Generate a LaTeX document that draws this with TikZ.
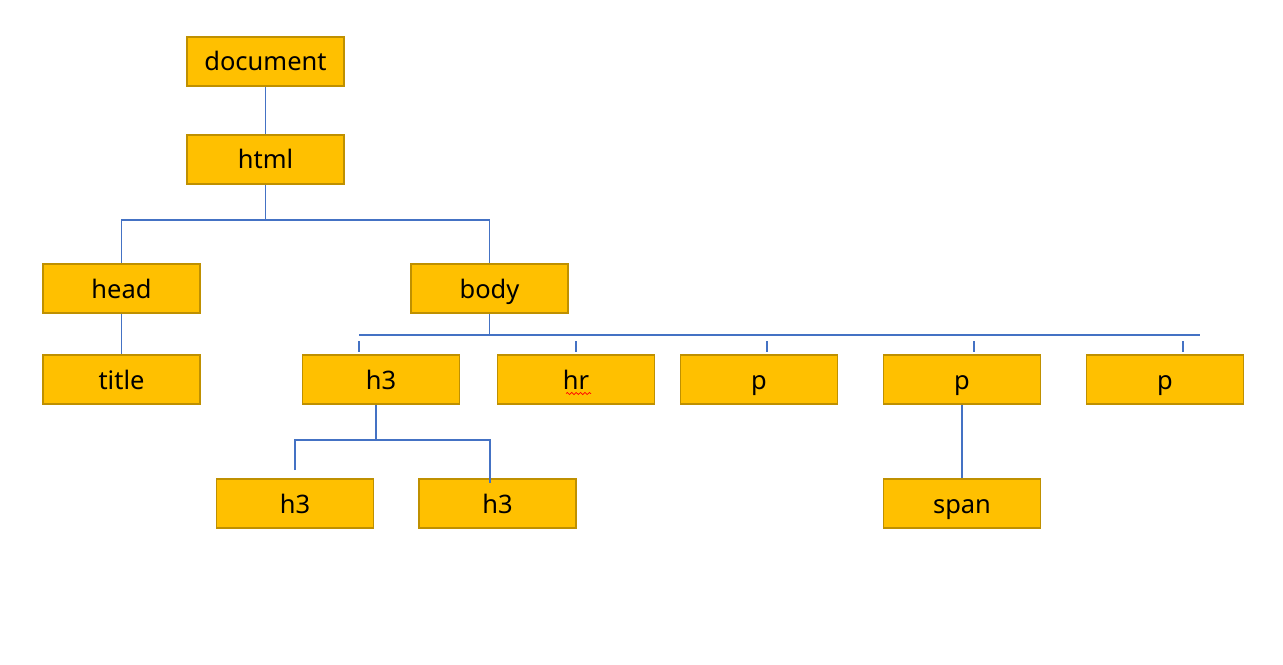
\documentclass[tikz,border=0pt]{standalone}
\usepackage{fontspec}
\setmainfont{Noto Sans}
\usetikzlibrary{positioning,decorations.pathmorphing}
\definecolor{boxfill}{HTML}{FFC000}
\definecolor{boxline}{HTML}{BF9000}
\definecolor{linkblue}{HTML}{4472C4}

\begin{document}
\begin{tikzpicture}[x=0.02cm,y=-0.02cm,
    tag node/.style={rectangle,draw=boxline,fill=boxfill,line width=0.6pt,
        minimum width=3.14cm,minimum height=0.98cm,inner sep=0pt,
        text height=12pt,text depth=1.2pt,font=\fontsize{14.5}{17}\selectfont},
    link/.style={draw=linkblue,line width=0.6pt}]

            \useasboundingbox (0,0) rectangle (1283,664);

            \node[tag node] (document) at (265.5,61.5) {document};
            \node[tag node] (html) at (265.5,159.5) {html};
            \node[tag node] (head) at (121.5,288.5) {head};
            \node[tag node] (body) at (489.5,288.5) {body};
            \node[tag node] (title) at (121.5,379.5) {title};
            \node[tag node] (h3) at (381,379.5) {h3};
            \node[tag node] (hr) at (576,379.5) {hr};
            \node[tag node] (pa) at (759,379.5) {p};
            \node[tag node] (pb) at (962,379.5) {p};
            \node[tag node] (pc) at (1165,379.5) {p};
            \node[tag node] (h3a) at (295,503.5) {h3};
            \node[tag node] (h3b) at (497.5,503.5) {h3};
            \node[tag node] (span) at (962,503.5) {span};

            \coordinate (htmlsplit) at (265.5,220);
            \coordinate (bodysplit) at (489.5,335);
            \coordinate (barleft) at (359,335);
            \coordinate (barright) at (1200,335);
            \coordinate (h3split) at (376,440);

            \draw[link] (document) -- (html);
            \draw[link] (html.south) -- (htmlsplit);
            \draw[link] (head.north) |- (htmlsplit) -| (body.north);
            \draw[link] (head) -- (title);

            \draw[link] (body.south) -- (bodysplit);
            \draw[link] (barleft) -- (barright);
            \foreach \x/\n in {359/h3,576/hr,767/pa,974/pb,1183/pc}
                \draw[link,shorten >=1.2pt] (\x,341) -- (\x,341 |- \n.north);

            \draw[link] (h3.south -| h3split) -- (h3split);
            \draw[link] (295,470) |- (h3split) -| (490,483);
            \draw[link] (pb) -- (span);

            % spell-check squiggle under hr
            \draw[red,line width=0.4pt,decorate,decoration={snake,amplitude=0.6pt,segment length=2.5pt}]
                ([xshift=-0.2cm,yshift=-0.28cm]hr.center) -- ([xshift=0.3cm,yshift=-0.28cm]hr.center);

        \end{tikzpicture}
\end{document}
